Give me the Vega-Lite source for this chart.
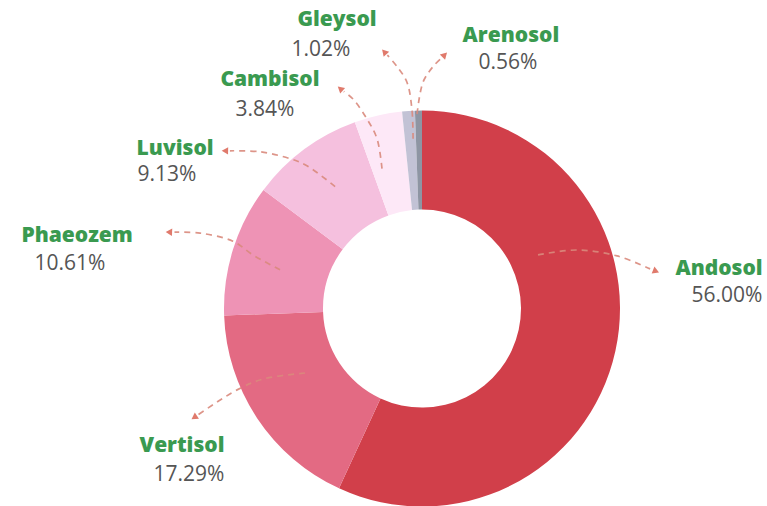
{
  "$schema": "https://vega.github.io/schema/vega-lite/v6.json",
  "width": 767,
  "height": 506,
  "autosize": {"type": "fit", "contains": "padding"},
  "padding": 0,
  "background": "white",
  "view": {"stroke": null},
  "datasets": {
    "soils": [
      {"soil": "Andosol", "idx": 1, "share": 0.56},
      {"soil": "Vertisol", "idx": 2, "share": 0.1729},
      {"soil": "Phaeozem", "idx": 3, "share": 0.1061},
      {"soil": "Luvisol", "idx": 4, "share": 0.0913},
      {"soil": "Cambisol", "idx": 5, "share": 0.0384},
      {"soil": "Gleysol", "idx": 6, "share": 0.0102},
      {"soil": "Arenosol", "idx": 7, "share": 0.0056}
    ],
    "labels": [
      {"soil": "Andosol", "nx": 1.5, "ny": 0.172, "px": 1.54, "py": 0.034},
      {"soil": "Vertisol", "nx": -1.212, "ny": -0.732, "px": -1.177, "py": -0.88},
      {"soil": "Phaeozem", "nx": -1.742, "ny": 0.338, "px": -1.778, "py": 0.196},
      {"soil": "Luvisol", "nx": -1.247, "ny": 0.783, "px": -1.288, "py": 0.651},
      {"soil": "Cambisol", "nx": -0.768, "ny": 1.131, "px": -0.793, "py": 0.979},
      {"soil": "Gleysol", "nx": -0.429, "ny": 1.439, "px": -0.51, "py": 1.287},
      {"soil": "Arenosol", "nx": 0.449, "ny": 1.359, "px": 0.434, "py": 1.221}
    ],
    "arrows": [
      {"soil": "Andosol", "i": 1, "x": 0.586, "y": 0.273},
      {"soil": "Andosol", "i": 2, "x": 0.783, "y": 0.298},
      {"soil": "Andosol", "i": 3, "x": 0.985, "y": 0.268},
      {"soil": "Andosol", "i": 4, "x": 1.152, "y": 0.202},
      {"soil": "Vertisol", "i": 1, "x": -0.591, "y": -0.328},
      {"soil": "Vertisol", "i": 2, "x": -0.803, "y": -0.359},
      {"soil": "Vertisol", "i": 3, "x": -0.934, "y": -0.414},
      {"soil": "Vertisol", "i": 4, "x": -1.13, "y": -0.54},
      {"soil": "Phaeozem", "i": 1, "x": -0.717, "y": 0.197},
      {"soil": "Phaeozem", "i": 2, "x": -0.854, "y": 0.273},
      {"soil": "Phaeozem", "i": 3, "x": -0.955, "y": 0.343},
      {"soil": "Phaeozem", "i": 4, "x": -1.121, "y": 0.384},
      {"soil": "Phaeozem", "i": 5, "x": -1.25, "y": 0.389},
      {"soil": "Luvisol", "i": 1, "x": -0.439, "y": 0.621},
      {"soil": "Luvisol", "i": 2, "x": -0.581, "y": 0.727},
      {"soil": "Luvisol", "i": 3, "x": -0.667, "y": 0.763},
      {"soil": "Luvisol", "i": 4, "x": -0.818, "y": 0.798},
      {"soil": "Luvisol", "i": 5, "x": -0.97, "y": 0.803},
      {"soil": "Cambisol", "i": 1, "x": -0.202, "y": 0.712},
      {"soil": "Cambisol", "i": 2, "x": -0.227, "y": 0.864},
      {"soil": "Cambisol", "i": 3, "x": -0.278, "y": 0.965},
      {"soil": "Cambisol", "i": 4, "x": -0.348, "y": 1.066},
      {"soil": "Cambisol", "i": 5, "x": -0.395, "y": 1.105},
      {"soil": "Gleysol", "i": 1, "x": -0.045, "y": 0.864},
      {"soil": "Gleysol", "i": 2, "x": -0.051, "y": 1.015},
      {"soil": "Gleysol", "i": 3, "x": -0.076, "y": 1.152},
      {"soil": "Gleysol", "i": 4, "x": -0.126, "y": 1.232},
      {"soil": "Gleysol", "i": 5, "x": -0.175, "y": 1.29},
      {"soil": "Arenosol", "i": 1, "x": -0.025, "y": 0.99},
      {"soil": "Arenosol", "i": 2, "x": 0.005, "y": 1.152},
      {"soil": "Arenosol", "i": 3, "x": 0.056, "y": 1.232},
      {"soil": "Arenosol", "i": 4, "x": 0.1, "y": 1.277}
    ],
    "heads": [
      {"soil": "Andosol", "x": 1.177, "y": 0.192, "angle": 112},
      {"soil": "Vertisol", "x": -1.146, "y": -0.551, "angle": 236},
      {"soil": "Phaeozem", "x": -1.273, "y": 0.389, "angle": 273},
      {"soil": "Luvisol", "x": -0.99, "y": 0.803, "angle": 271},
      {"soil": "Cambisol", "x": -0.409, "y": 1.116, "angle": 311},
      {"soil": "Gleysol", "x": -0.187, "y": 1.303, "angle": 318},
      {"soil": "Arenosol", "x": 0.111, "y": 1.288, "angle": 45}
    ]
  },
  "layer": [
    {
      "data": {"name": "soils"},
      "mark": {"type": "arc", "outerRadius": 198, "innerRadius": 99, "stroke": null},
      "encoding": {
        "x": {"datum": 0, "type": "quantitative", "scale": {"domain": [-2.1313, 1.7424], "nice": false, "zero": false}, "axis": null},
        "y": {"datum": 0, "type": "quantitative", "scale": {"domain": [-0.9848, 1.5707], "nice": false, "zero": false}, "axis": null},
        "theta": {"field": "share", "type": "quantitative", "stack": true},
        "order": {"field": "idx", "type": "quantitative"},
        "color": {
          "field": "soil", "type": "nominal", "legend": null,
          "scale": {
            "domain": ["Andosol", "Vertisol", "Phaeozem", "Luvisol", "Cambisol", "Gleysol", "Arenosol"],
            "range": ["#d13f4a", "#e36a83", "#ee93b5", "#f5c0de", "#fde8f7", "#c2c2d5", "#8e95a3"]
          }
        }
      }
    },
    {
      "data": {"name": "arrows"},
      "mark": {"type": "line", "interpolate": "catmull-rom", "strokeDash": [6, 5], "strokeWidth": 1.7, "color": "#d98a7c", "opacity": 0.9},
      "encoding": {
        "x": {"field": "x", "type": "quantitative", "scale": {"domain": [-2.1313, 1.7424], "nice": false, "zero": false}, "axis": null},
        "y": {"field": "y", "type": "quantitative", "scale": {"domain": [-0.9848, 1.5707], "nice": false, "zero": false}, "axis": null},
        "detail": {"field": "soil", "type": "nominal"},
        "order": {"field": "i", "type": "quantitative"}
      }
    },
    {
      "data": {"name": "heads"},
      "mark": {"type": "point", "shape": "triangle", "filled": true, "size": 55, "color": "#e07a6c", "opacity": 1},
      "encoding": {
        "x": {"field": "x", "type": "quantitative", "scale": {"domain": [-2.1313, 1.7424], "nice": false, "zero": false}, "axis": null},
        "y": {"field": "y", "type": "quantitative", "scale": {"domain": [-0.9848, 1.5707], "nice": false, "zero": false}, "axis": null},
        "angle": {"field": "angle", "type": "quantitative", "scale": null}
      }
    },
    {
      "data": {"name": "labels"},
      "mark": {"type": "text", "align": "center", "baseline": "alphabetic", "font": "Open Sans", "fontWeight": 800, "fontSize": 21, "color": "#3a9a50"},
      "encoding": {
        "x": {"field": "nx", "type": "quantitative", "scale": {"domain": [-2.1313, 1.7424], "nice": false, "zero": false}, "axis": null},
        "y": {"field": "ny", "type": "quantitative", "scale": {"domain": [-0.9848, 1.5707], "nice": false, "zero": false}, "axis": null},
        "text": {"field": "soil", "type": "nominal"}
      }
    },
    {
      "data": {"name": "labels"},
      "transform": [
        {"lookup": "soil", "from": {"data": {"name": "soils"}, "key": "soil", "fields": ["share"]}}
      ],
      "mark": {"type": "text", "align": "center", "baseline": "alphabetic", "font": "Open Sans", "fontWeight": 400, "fontSize": 21, "color": "#555555"},
      "encoding": {
        "x": {"field": "px", "type": "quantitative", "scale": {"domain": [-2.1313, 1.7424], "nice": false, "zero": false}, "axis": null},
        "y": {"field": "py", "type": "quantitative", "scale": {"domain": [-0.9848, 1.5707], "nice": false, "zero": false}, "axis": null},
        "text": {"field": "share", "type": "quantitative", "format": ".2%"}
      }
    }
  ]
}
